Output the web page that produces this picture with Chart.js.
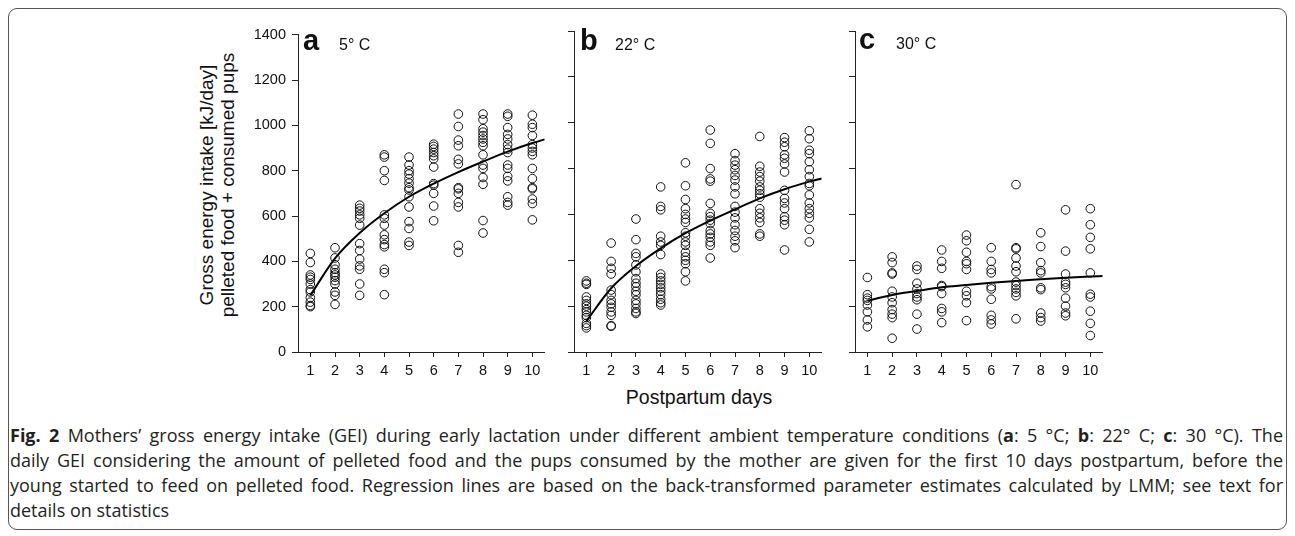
<!DOCTYPE html>
<html>
<head>
<meta charset="utf-8">
<title>Gross energy intake</title>
<script src="https://cdn.jsdelivr.net/npm/chart.js"></script>
<style>
  body { margin: 0; width: 1295px; height: 536px; background: #fff; position: relative; overflow: hidden;
         font-family: "Liberation Sans", Arial, sans-serif; color: #111; }
  .frame { position: absolute; left: 8px; top: 8px; width: 1279px; height: 522px; border: 1.5px solid #555;
           border-radius: 9px; box-sizing: border-box; }
  canvas { position: absolute; }
  .lbl { position: absolute; white-space: nowrap; line-height: 1; }
  .big { font-weight: bold; font-size: 29px; }
  .temp { font-size: 16px; }
  #ytitle { position: absolute; left: 67px; top: 164px; width: 300px; height: 42px; font-size: 19px;
            line-height: 21px; text-align: center; transform: rotate(-90deg); white-space: nowrap; }
  #xtitle { position: absolute; left: 549px; top: 388px; width: 300px; text-align: center; font-size: 19.5px; line-height: 19.5px; }
  #caption { position: absolute; left: 10px; top: 423px; width: 1273px; font-family: "Open Sans", sans-serif;
             font-size: 18px; line-height: 25px; color: #231f20; }
  #caption div { white-space: nowrap; text-align: justify; text-align-last: justify; }
  #caption div:last-child { text-align-last: left; }
</style>
</head>
<body>
<div class="frame"></div>

<canvas id="chartA" width="310" height="362" style="left:240px; top:20px"></canvas>
<canvas id="chartB" width="267" height="362" style="left:560px; top:20px"></canvas>
<canvas id="chartC" width="268" height="362" style="left:840px; top:20px"></canvas>

<div class="lbl big" style="left:303px; top:26px">a</div>
<div class="lbl temp" style="left:339px; top:37px">5° C</div>
<div class="lbl big" style="left:580px; top:26px">b</div>
<div class="lbl temp" style="left:615px; top:37px">22° C</div>
<div class="lbl big" style="left:859px; top:25px">c</div>
<div class="lbl temp" style="left:896px; top:36px">30° C</div>

<div id="ytitle">Gross energy intake [kJ/day]<br>pelleted food + consumed pups</div>
<div id="xtitle">Postpartum days</div>

<div id="caption">
  <div><b>Fig. 2</b> Mothers’ gross energy intake (GEI) during early lactation under different ambient temperature conditions (<b>a</b>: 5 °C; <b>b</b>: 22° C; <b>c</b>: 30 °C). The</div>
  <div>daily GEI considering the amount of pelleted food and the pups consumed by the mother are given for the first 10 days postpartum, before the</div>
  <div>young started to feed on pelleted food. Regression lines are based on the back-transformed parameter estimates calculated by LMM; see text for</div>
  <div>details on statistics</div>
</div>

<script>
  const days = [1, 2, 3, 4, 5, 6, 7, 8, 9, 10];
  const yTicks = [0, 200, 400, 600, 800, 1000, 1200, 1400];

  // GEI per day (kJ/day), one list per postpartum day
  const gei5 = [
    [435, 395, 340, 330, 320, 300, 275, 265, 240, 220, 205, 200],
    [460, 415, 385, 365, 350, 340, 330, 315, 300, 265, 250, 210],
    [648, 634, 622, 605, 590, 560, 478, 448, 410, 380, 365, 300, 250],
    [870, 860, 800, 757, 605, 590, 560, 517, 496, 474, 464, 365, 350, 253],
    [860, 825, 800, 785, 765, 745, 725, 715, 685, 640, 575, 545, 485, 470],
    [917, 907, 895, 880, 866, 852, 816, 743, 736, 700, 644, 579],
    [1050, 995, 935, 910, 850, 830, 725, 720, 700, 660, 640, 470, 440],
    [1050, 1025, 985, 970, 955, 940, 925, 910, 870, 825, 810, 770, 740, 580, 525],
    [1050, 1040, 990, 960, 940, 915, 895, 880, 825, 810, 775, 755, 685, 660, 648],
    [1045, 1005, 990, 955, 915, 900, 885, 870, 810, 765, 725, 720, 675, 655, 583]
  ];
  const gei22 = [
    [310, 300, 295, 240, 225, 210, 200, 185, 175, 160, 150, 125, 115, 105],
    [475, 395, 365, 340, 270, 250, 225, 210, 195, 175, 160, 115, 112],
    [580, 490, 430, 415, 380, 350, 320, 300, 285, 265, 250, 225, 210, 190, 175, 168],
    [720, 635, 620, 505, 480, 465, 425, 340, 325, 310, 295, 280, 265, 250, 230, 215, 205],
    [825, 725, 665, 625, 600, 580, 565, 520, 505, 480, 465, 435, 415, 400, 385, 350, 310],
    [968, 910, 800, 755, 745, 648, 605, 590, 575, 560, 530, 515, 500, 480, 465, 410],
    [865, 835, 815, 795, 770, 750, 720, 690, 635, 610, 585, 555, 530, 505, 485, 455],
    [940, 810, 785, 765, 745, 720, 705, 690, 675, 625, 605, 585, 565, 515, 505],
    [935, 915, 895, 860, 845, 820, 785, 705, 670, 650, 625, 590, 575, 555, 445],
    [965, 930, 880, 865, 830, 795, 765, 735, 725, 685, 650, 625, 605, 585, 535, 480]
  ];
  const gei30 = [
    [325, 250, 235, 225, 205, 175, 140, 110],
    [415, 390, 345, 340, 265, 240, 215, 185, 165, 150, 60],
    [375, 360, 300, 275, 255, 240, 228, 165, 100],
    [445, 395, 365, 290, 285, 255, 190, 175, 128],
    [510, 485, 435, 395, 385, 360, 265, 245, 215, 137],
    [455, 395, 360, 345, 285, 275, 230, 160, 140, 122],
    [730, 455, 450, 410, 375, 350, 305, 290, 275, 260, 245, 145],
    [520, 460, 390, 355, 345, 280, 272, 170, 150, 135],
    [620, 440, 340, 305, 295, 280, 235, 200, 170, 158],
    [625, 555, 500, 450, 345, 252, 240, 178, 125, 72]
  ];

  // regression lines
  const fitDays = [1, 2, 3, 4, 5, 6, 7, 8, 9, 10, 10.5];
  const fit5 = [250, 413, 525, 612, 685, 743, 794, 840, 884, 922, 938];
  const fit22 = [135, 278, 375, 452, 518, 573, 622, 670, 710, 743, 757];
  const fit30 = [224, 249, 266, 282, 292, 302, 310, 317, 324, 329, 331];

  const axisColor = '#222';
  const tickFont = { family: '"Liberation Sans", Arial, sans-serif', size: 14.5 };

  function drawPanel(id, groups, fit, yWidth, showLabels) {
    const points = [];
    groups.forEach((vals, i) => vals.forEach(v => points.push({ x: days[i], y: v })));
    const curve = fitDays.map((d, i) => ({ x: d, y: fit[i] }));

    new Chart(document.getElementById(id), {
      type: 'scatter',
      data: {
        datasets: [{
          data: points,
          pointRadius: 4.3,
          pointHoverRadius: 4.3,
          pointBorderWidth: 1,
          pointBorderColor: '#111',
          pointBackgroundColor: 'rgba(0,0,0,0)'
        }, {
          data: curve,
          showLine: true,
          pointRadius: 0,
          borderColor: '#000',
          borderWidth: 2,
          cubicInterpolationMode: 'monotone'
        }]
      },
      options: {
        responsive: false,
        animation: false,
        events: [],
        layout: { padding: { top: 11, right: 3, left: 0, bottom: 0 } },
        plugins: { legend: { display: false }, tooltip: { enabled: false } },
        scales: {
          x: {
            type: 'linear',
            min: 0.5,
            max: 10.5,
            afterBuildTicks: s => { s.ticks = days.map(v => ({ value: v })); },
            afterFit: s => { s.height = 30; },
            grid: { drawOnChartArea: false, color: axisColor, tickLength: 5 },
            border: { color: axisColor, width: 1 },
            ticks: { color: '#111', font: tickFont, padding: 5, maxRotation: 0, autoSkip: false,
                     callback: v => String(v) }
          },
          y: {
            min: 0,
            max: 1400,
            afterBuildTicks: s => { s.ticks = yTicks.map(v => ({ value: v })); },
            afterFit: s => { s.width = yWidth; },
            grid: { drawOnChartArea: false, color: axisColor, tickLength: 6 },
            border: { color: axisColor, width: 1 },
            ticks: { display: showLabels, color: '#111', font: tickFont, padding: 6,
                     callback: v => String(v) }
          }
        }
      }
    });
  }

  drawPanel('chartA', gei5, fit5, 58, true);
  drawPanel('chartB', gei22, fit22, 14, false);
  drawPanel('chartC', gei30, fit30, 15, false);
</script>
</body>
</html>
